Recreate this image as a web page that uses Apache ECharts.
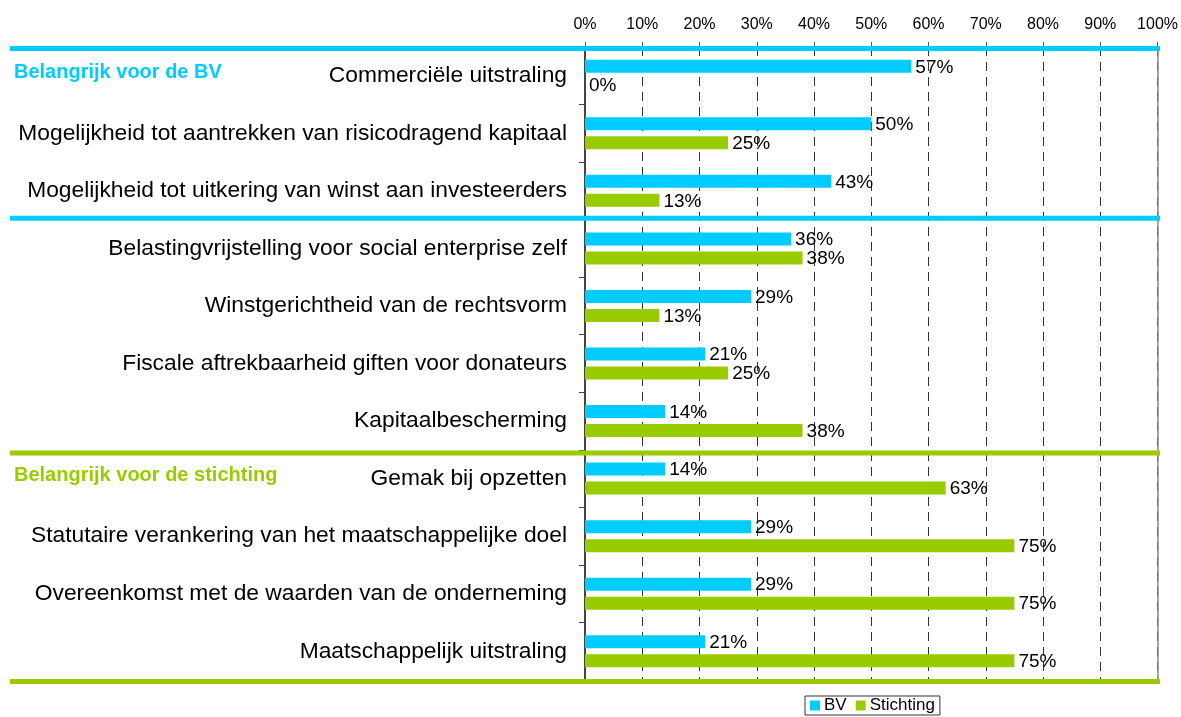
<!DOCTYPE html>
<html>
<head>
<meta charset="utf-8">
<script src="https://cdn.jsdelivr.net/npm/echarts@6/dist/echarts.min.js"></script>
<style>
html,body{margin:0;padding:0;background:#fff;}
#chart{width:1181px;height:717px;}
</style>
</head>
<body>
<div id="chart"></div>
<script>
// ---- data ----
const categories = [
  'Commerciële uitstraling',
  'Mogelijkheid tot aantrekken van risicodragend kapitaal',
  'Mogelijkheid tot uitkering van winst aan investeerders',
  'Belastingvrijstelling voor social enterprise zelf',
  'Winstgerichtheid van de rechtsvorm',
  'Fiscale aftrekbaarheid giften voor donateurs',
  'Kapitaalbescherming',
  'Gemak bij opzetten',
  'Statutaire verankering van het maatschappelijke doel',
  'Overeenkomst met de waarden van de onderneming',
  'Maatschappelijk uitstraling'
];
const seriesNames = ['BV', 'Stichting'];
const bvValues = [57, 50, 43, 36, 29, 21, 14, 14, 29, 29, 21];
const stichtingValues = [0, 25, 13, 38, 13, 25, 38, 63, 75, 75, 75];
const sectionTitles = ['Belangrijk voor de BV', 'Belangrijk voor de stichting'];
const sectionStartIndex = [0, 7];
const sectionEndIndex = [3, 11];

// ---- style ----
const CYAN = '#00CCFF';
const GREEN = '#99CC00';
const FONT = '"Liberation Sans", Arial, Helvetica, sans-serif';
const GRID = { left: 585, right: 21, top: 47, bottom: 37 };
const W = 1181, H = 717;

const chart = echarts.init(document.getElementById('chart'), null, { renderer: 'canvas' });

const labelCfg = {
  show: true,
  position: 'right',
  distance: 4,
  formatter: '{c}%',
  fontSize: 19,
  color: '#000',
  fontFamily: FONT,
  offset: [0, 1]
};

const bandH = (H - GRID.top - GRID.bottom) / categories.length;
const boundaryY = i => GRID.top + i * bandH;
const sectionColors = [CYAN, GREEN];
const lineOffsets = [[1.5, -1.5], [3.3, 1.5]];

const graphics = [];
sectionTitles.forEach((t, s) => {
  [sectionStartIndex[s], sectionEndIndex[s]].forEach((idx, k) => {
    graphics.push({
      type: 'rect',
      z: 100,
      shape: { x: 10, y: boundaryY(idx) + lineOffsets[s][k] - 2.5, width: W - GRID.right - 10, height: 5 },
      style: { fill: sectionColors[s] }
    });
  });
  graphics.push({
    type: 'text',
    z: 100,
    x: 14,
    y: boundaryY(sectionStartIndex[s]) + bandH / 2 - 3,
    style: {
      text: t,
      fill: sectionColors[s],
      font: 'bold 20px ' + FONT,
      verticalAlign: 'middle',
      align: 'left'
    }
  });
});

const option = {
  animation: false,
  backgroundColor: '#fff',
  textStyle: { fontFamily: FONT },
  grid: { left: GRID.left, right: GRID.right, top: GRID.top, bottom: GRID.bottom },
  legend: {
    data: seriesNames,
    left: 805,
    top: 696,
    orient: 'horizontal',
    icon: 'rect',
    itemWidth: 10,
    itemHeight: 10,
    itemGap: 9,
    padding: [1, 5, 1, 5],
    borderColor: '#333',
    borderWidth: 1,
    textStyle: { fontSize: 17, color: '#000', fontFamily: FONT, padding: [0, 0, 0, -1] }
  },
  xAxis: {
    type: 'value',
    position: 'top',
    min: 0,
    max: 100,
    interval: 10,
    axisLine: { show: false },
    axisTick: { show: true, length: 5, lineStyle: { color: '#555' } },
    axisLabel: { formatter: '{value}%', fontSize: 16, color: '#000', margin: 14, fontFamily: FONT },
    splitLine: { show: true, lineStyle: { type: [9, 6], color: '#333', width: 1 } }
  },
  yAxis: [
    {
      type: 'category',
      data: categories,
      inverse: true,
      axisLine: { show: true, lineStyle: { color: '#444', width: 2 } },
      axisTick: { show: true, length: 6, lineStyle: { color: '#444' } },
      axisLabel: { fontSize: 22.8, color: '#000', margin: 18, fontFamily: FONT }
    },
    {
      type: 'category',
      data: categories,
      inverse: true,
      position: 'right',
      axisLine: { show: true, lineStyle: { color: '#888', width: 1.5 } },
      axisTick: { show: false },
      axisLabel: { show: false }
    }
  ],
  series: [
    {
      name: seriesNames[0],
      type: 'bar',
      data: bvValues,
      barWidth: 13,
      barGap: '46%',
      itemStyle: { color: CYAN },
      label: labelCfg,
      z: 3
    },
    {
      name: seriesNames[1],
      type: 'bar',
      data: stichtingValues,
      barWidth: 13,
      barGap: '46%',
      itemStyle: { color: GREEN },
      label: labelCfg,
      z: 3
    }
  ],
  graphic: graphics
};

chart.setOption(option);
</script>
</body>
</html>
